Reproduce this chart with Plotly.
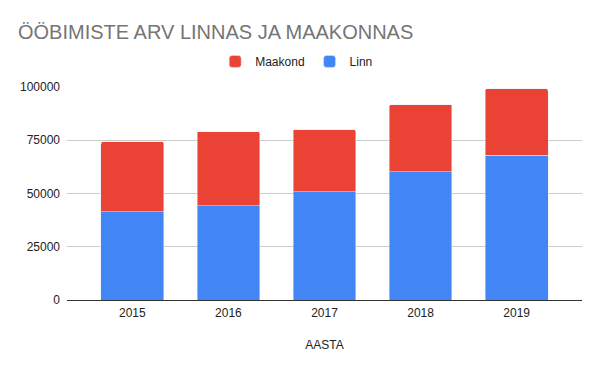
import plotly.graph_objects as go

years = ["2015", "2016", "2017", "2018", "2019"]
linn = [41400, 44200, 50800, 60300, 67900]
maakond = [32900, 34800, 29200, 31400, 31300]
y_ticks = [0, 25000, 50000, 75000, 100000]

BLUE = "#4285f4"
RED = "#ea4335"

fig = go.Figure()
fig.add_trace(go.Bar(x=years, y=linn, name="Linn", marker_color=BLUE, width=0.653))
fig.add_trace(go.Bar(x=years, y=maakond, name="Maakond", marker_color=RED, width=0.653))

fig.update_layout(
    width=600, height=371,
    barmode="stack",
    barcornerradius=2,
    paper_bgcolor="white", plot_bgcolor="white",
    font=dict(family="Liberation Sans, Arial, sans-serif", size=12, color="#222222"),
    margin=dict(l=67, r=18, t=87, b=71),
    title=dict(text="ÖÖBIMISTE ARV LINNAS JA MAAKONNAS", x=18/600, xanchor="left",
               y=1-32/371, yanchor="middle",
               font=dict(size=20, color="#757575", family="Liberation Sans, Arial, sans-serif")),
    legend=dict(orientation="h", x=0.446, xanchor="center", y=1.12, yanchor="middle",
                traceorder="reversed", font=dict(size=12, color="#222222")),
    xaxis=dict(title=dict(text="AASTA", font=dict(size=12, color="#222222"), standoff=21),
               range=[-0.68, 4.68], showline=True, linecolor="#333333", linewidth=1,
               ticks="", showgrid=False, automargin=False, ticklabelstandoff=2),
    yaxis=dict(range=[0, 100000], tickvals=y_ticks, ticktext=[str(v) for v in y_ticks],
               showgrid=True, gridcolor="#cccccc", gridwidth=1, zeroline=False,
               ticks="", ticklabelstandoff=6, automargin=False),
)

fig.write_html("out.html", config={"displayModeBar": False},
               post_script="document.body.style.margin='0';document.body.style.overflow='hidden';")
